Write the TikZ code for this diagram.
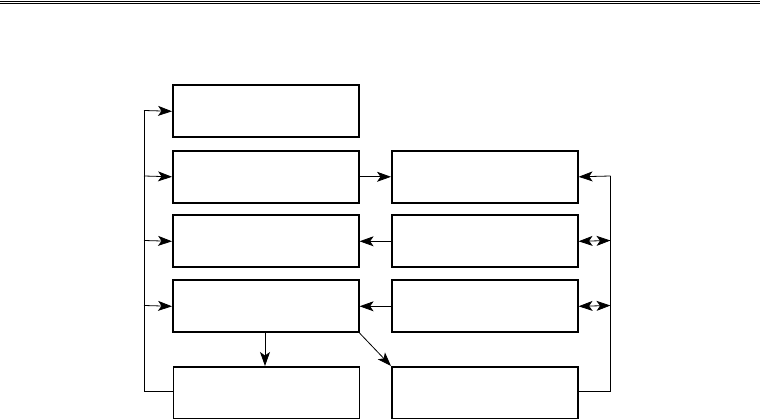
\documentclass[tikz,border=0pt]{standalone}
\usetikzlibrary{arrows.meta}
\begin{document}
\begin{tikzpicture}[x=1pt,y=-1pt,
  box/.style={draw,line width=1.6pt,minimum width=186pt,minimum height=52pt,inner sep=0pt,anchor=north west},
  conn/.style={line width=0.8pt},
  arr/.style={conn,-{Stealth[length=14pt,width=10pt,inset=3.5pt]}},
  darr/.style={conn,{Stealth[length=14pt,width=10pt,inset=3.5pt]}-{Stealth[length=14pt,width=10pt,inset=3.5pt]}}]
\useasboundingbox (0,0) rectangle (760,419);
% header rules
\draw[line width=1.3pt] (0,1.5) -- (760,1.5);
\draw[line width=0.7pt] (0,3.8) -- (760,3.8);
% boxes
\node[box] (L0) at (172,84.5) {};
\node[box] (L1) at (172,150) {};
\node[box] (L2) at (172,214.5) {};
\node[box] (L3) at (172,279.5) {};
\node[box] (B1) at (172.5,366) {};
\node[box] (R1) at (391,150) {};
\node[box] (R2) at (391,214.5) {};
\node[box] (R3) at (391,279.5) {};
\node[box] (B2) at (391,366) {};
% left bus
\coordinate (lt) at (144,110.5);
\coordinate (lb) at (144,391);
\draw[conn] (B1.west |- lb) -- (lb) -- (lt);
\draw[arr] (lt) -- (L0.west);
\draw[arr] (144,176) -- (L1.west);
\draw[arr] (144,240.5) -- (L2.west);
\draw[arr] (144,305.5) -- (L3.west);
% right bus
\coordinate (rt) at (610.5,176);
\coordinate (rb) at (610.5,391);
\draw[conn] (B2.east |- rb) -- (rb) -- (rt);
\draw[arr] (rt) -- (R1.east);
\draw[darr] (R2.east) -- (610.5,240.5);
\draw[darr] (R3.east) -- (610.5,305.5);
% middle arrows
\draw[arr] (L1.east) -- (R1.west);
\draw[arr] (R2.west) -- (L2.east);
\draw[arr] (R3.west) -- (L3.east);
\draw[arr] (265,331.5) -- (265,366);
\draw[arr] (L3.south east) -- (B2.north west);
\end{tikzpicture}
\end{document}
